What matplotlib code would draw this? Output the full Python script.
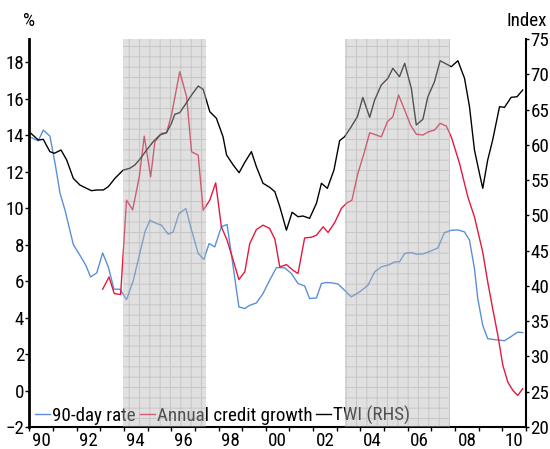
import matplotlib
matplotlib.use('Agg')
import matplotlib.pyplot as plt

# ---------------- data ----------------
rate_x = [1990.1, 1990.38, 1990.59, 1990.87, 1991.09, 1991.3, 1991.51, 1991.86, 1992.14, 1992.39,
          1992.59, 1992.85, 1993.1, 1993.34, 1993.58, 1993.83, 1994.11, 1994.39, 1994.65, 1994.89,
          1995.1, 1995.38, 1995.59, 1995.87, 1996.08, 1996.33, 1996.62, 1996.86, 1997.14, 1997.38,
          1997.6, 1997.84, 1998.12, 1998.36, 1998.62, 1998.86, 1999.11, 1999.32, 1999.6, 1999.88,
          2000.16, 2000.45, 2000.8, 2001.08, 2001.36, 2001.64, 2001.85, 2002.14, 2002.35, 2002.56,
          2002.77, 2003.05, 2003.33, 2003.61, 2003.96, 2004.32, 2004.6, 2004.88, 2005.23, 2005.44,
          2005.65, 2005.87, 2006.15, 2006.36, 2006.64, 2006.99, 2007.27, 2007.55, 2007.84, 2008.12,
          2008.4, 2008.61, 2008.82, 2008.96, 2009.17, 2009.38, 2009.66, 2010.09, 2010.23, 2010.44,
          2010.65, 2010.86]
rate = [13.85, 13.68, 14.27, 13.94, 12.44, 10.8, 9.88, 8.0, 7.41, 6.86,
        6.22, 6.44, 7.54, 6.77, 5.55, 5.55, 4.98, 6.0, 7.4, 8.7,
        9.33, 9.15, 9.06, 8.56, 8.69, 9.7, 9.97, 8.78, 7.51, 7.18,
        8.05, 7.87, 8.97, 9.1, 6.77, 4.58, 4.49, 4.67, 4.8, 5.31,
        6.04, 6.74, 6.72, 6.41, 5.86, 5.73, 5.04, 5.07, 5.86, 5.92,
        5.9, 5.84, 5.49, 5.13, 5.4, 5.77, 6.5, 6.77, 6.9, 7.05,
        7.05, 7.51, 7.56, 7.47, 7.48, 7.65, 7.81, 8.65, 8.78, 8.8,
        8.69, 8.24, 6.68, 5.04, 3.57, 2.84, 2.79, 2.73, 2.84, 3.02,
        3.2, 3.17]

credit_x = [1993.1, 1993.37, 1993.59, 1993.86, 1994.11, 1994.37, 1994.65, 1994.86, 1995.13, 1995.31,
            1995.59, 1995.8, 1996.01, 1996.36, 1996.65, 1996.86, 1997.14, 1997.35, 1997.63, 1997.88,
            1998.12, 1998.36, 1998.62, 1998.86, 1999.11, 1999.32, 1999.6, 1999.88, 2000.16, 2000.38,
            2000.59, 2000.87, 2001.15, 2001.36, 2001.64, 2001.93, 2002.14, 2002.42, 2002.63, 2002.91,
            2003.19, 2003.4, 2003.64, 2003.89, 2004.15, 2004.39, 2004.67, 2004.88, 2005.14, 2005.37,
            2005.61, 2005.87, 2006.12, 2006.36, 2006.64, 2006.88, 2007.13, 2007.37, 2007.63, 2007.84,
            2008.19, 2008.54, 2008.82, 2009.17, 2009.38, 2009.59, 2009.81, 2010.02, 2010.23, 2010.44,
            2010.65, 2010.86]
credit = [5.55, 6.22, 5.31, 5.26, 10.43, 9.9, 11.71, 13.94, 11.71, 13.63,
          14.09, 14.12, 15.09, 17.47, 16.1, 13.08, 12.9, 9.88, 10.43, 11.38,
          8.97, 8.24, 7.14, 6.08, 6.5, 8.05, 8.82, 9.06, 8.88, 8.3,
          6.77, 6.9, 6.59, 6.41, 8.36, 8.4, 8.51, 8.97, 8.66, 9.2,
          9.97, 10.25, 10.43, 11.89, 12.99, 14.12, 14.0, 13.9, 14.73, 15.0,
          16.19, 15.37, 14.54, 14.05, 14.0, 14.18, 14.27, 14.64, 14.49, 13.9,
          12.44, 10.61, 9.51, 7.59, 5.95, 4.49, 3.02, 1.38, 0.46, 0.01,
          -0.27, 0.1]

twi_x = [1990.07, 1990.38, 1990.59, 1990.87, 1991.06, 1991.34, 1991.58, 1991.86, 1992.14, 1992.42,
         1992.63, 1992.85, 1993.13, 1993.34, 1993.62, 1993.97, 1994.25, 1994.46, 1994.67, 1994.96,
         1995.24, 1995.52, 1995.8, 1996.01, 1996.15, 1996.36, 1996.58, 1996.86, 1997.14, 1997.35,
         1997.63, 1997.91, 1998.19, 1998.34, 1998.62, 1998.87, 1999.11, 1999.39, 1999.6, 1999.88,
         2000.16, 2000.38, 2000.59, 2000.87, 2001.11, 2001.36, 2001.57, 2001.85, 2002.14, 2002.35,
         2002.6, 2002.88, 2003.12, 2003.33, 2003.61, 2003.87, 2004.1, 2004.39, 2004.6, 2004.88,
         2005.16, 2005.37, 2005.65, 2005.87, 2006.15, 2006.36, 2006.64, 2006.85, 2007.13, 2007.37,
         2007.63, 2007.84, 2008.12, 2008.4, 2008.61, 2008.82, 2009.03, 2009.17, 2009.38, 2009.59,
         2009.88, 2010.09, 2010.37, 2010.62, 2010.86]
twi = [61.63, 60.68, 60.78, 59.03, 58.8, 59.27, 57.85, 55.25, 54.3, 53.83,
       53.5, 53.6, 53.6, 54.07, 55.25, 56.43, 56.67, 57.14, 57.94, 59.27,
       60.45, 61.39, 61.72, 63.05, 64.33, 64.56, 65.64, 67.06, 68.34, 67.87,
       64.7, 63.76, 61.15, 58.56, 57.14, 56.05, 57.52, 59.03, 56.9, 54.55,
       53.98, 53.36, 51.23, 47.9, 50.44, 49.81, 49.91, 49.58, 51.71, 54.55,
       53.83, 56.43, 60.59, 61.15, 62.57, 63.99, 66.73, 63.9, 66.35, 68.48,
       69.43, 70.85, 69.66, 71.55, 68.01, 62.81, 63.62, 66.82, 68.95, 71.92,
       71.46, 71.08, 71.92, 69.43, 65.41, 59.27, 55.96, 53.83, 57.85, 60.68,
       65.41, 65.31, 66.73, 66.82, 67.77]

shade_start = [1993.97, 2003.33]
shade_end = [1997.45, 2007.8]

series_labels = ['90-day rate', 'Annual credit growth', 'TWI (RHS)']
left_ticks = list(range(-2, 19, 2))
right_ticks = list(range(20, 76, 5))
year_ticks = list(range(1990, 2012))
year_label_years = list(range(1990, 2011, 2))
year_labels = ['90', '92', '94', '96', '98', '00', '02', '04', '06', '08', '10']

# ---------------- style ----------------
DPI = 124
plt.rcParams['font.family'] = ['Roboto Condensed', 'Liberation Sans', 'DejaVu Sans']
plt.rcParams['font.size'] = 11
plt.rcParams['hatch.linewidth'] = 0.6

fig = plt.figure(figsize=(550 / DPI, 449 / DPI), dpi=DPI)
ax = fig.add_axes([0.0533, 0.0490, 0.9031, 0.8641])
ax2 = ax.twinx()

l1, = ax.plot(rate_x, rate, color='#5a8ed8', lw=0.8, label=series_labels[0])
l2, = ax.plot(credit_x, credit, color='#e2183c', lw=0.8, label=series_labels[1])
l3, = ax2.plot(twi_x, twi, color='black', lw=0.8, label=series_labels[2], zorder=2)

for a, b in zip(shade_start, shade_end):
    ax2.axvspan(a, b, facecolor=(0.72, 0.72, 0.72, 0.43),
                edgecolor=(0.5, 0.5, 0.5, 0.25), hatch='++', lw=0, zorder=3)

ax.set_xlim(1990, 2011)
ax.set_ylim(-2, 19.26)
ax2.set_ylim(20, 75)

ax.set_yticks(left_ticks)
ax2.set_yticks(right_ticks)
ax.set_xticks(year_ticks)
ax.set_xticklabels([])
ax.set_xticks([y + 0.5 for y in year_label_years], minor=True)
ax.set_xticklabels(year_labels, minor=True)

ax.tick_params(axis='x', which='major', length=2.5, width=0.8, direction='out')
ax.tick_params(axis='x', which='minor', length=0, pad=3.0)
ax.tick_params(axis='y', length=2.5, width=0.8, pad=0.5)
ax2.tick_params(axis='y', length=2.0, width=0.8, pad=0.5)

for s in ['top', 'right']:
    ax.spines[s].set_visible(False)
for s in ['top', 'left', 'bottom']:
    ax2.spines[s].set_visible(False)
ax.spines['left'].set_linewidth(1.6)
ax.spines['bottom'].set_linewidth(1.2)
ax2.spines['right'].set_linewidth(1.2)

leg = ax2.legend([l1, l2, l3], series_labels, loc='lower left', bbox_to_anchor=(0.008, 0.0),
                 ncol=3, frameon=False, handlelength=0.8, handletextpad=0.1,
                 columnspacing=0.2, borderaxespad=0.0, borderpad=0.1)
leg.set_zorder(1)

fig.text(29 / 550, 1 - 21 / 449, '%', ha='center', va='center')
fig.text(527 / 550, 1 - 21.5 / 449, 'Index', ha='center', va='center')

fig.savefig('out.png', dpi=DPI)
